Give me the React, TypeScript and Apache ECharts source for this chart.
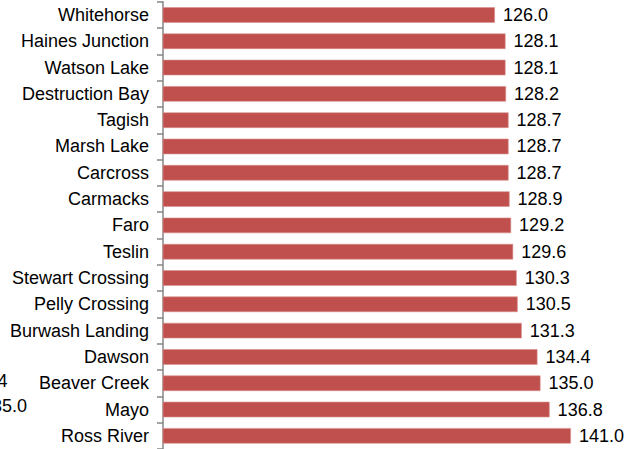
import React, { useEffect, useRef } from "react";
import * as echarts from "echarts";

const categories = [
  "Whitehorse",
  "Haines Junction",
  "Watson Lake",
  "Destruction Bay",
  "Tagish",
  "Marsh Lake",
  "Carcross",
  "Carmacks",
  "Faro",
  "Teslin",
  "Stewart Crossing",
  "Pelly Crossing",
  "Burwash Landing",
  "Dawson",
  "Beaver Creek",
  "Mayo",
  "Ross River",
];

const values = [
  126.0, 128.1, 128.1, 128.2, 128.7, 128.7, 128.7, 128.9, 129.2, 129.6, 130.3,
  130.5, 131.3, 134.4, 135.0, 136.8, 141.0,
];

const strayLabels = ["134.4", "135.0"];

const FONT = "Liberation Sans, Arial, sans-serif";

export default function App() {
  const ref = useRef<HTMLDivElement>(null);
  useEffect(() => {
    if (!ref.current) return;
    const chart = echarts.init(ref.current, undefined, { renderer: "svg" });
    chart.setOption({
      animation: false,
      grid: { left: 163, right: 18.5, top: 1.8, height: 449.5, containLabel: false },
      xAxis: {
        type: "value",
        min: 60.5,
        max: 150,
        show: false,
      },
      yAxis: {
        type: "category",
        inverse: true,
        data: categories,
        axisLine: { show: true, lineStyle: { color: "#868686", width: 1.5 } },
        axisTick: { show: true, length: 6, lineStyle: { color: "#868686", width: 1.5 } },
        axisLabel: { color: "#000", fontSize: 18, fontFamily: FONT, margin: 14 },
        splitLine: { show: false },
      },
      series: [
        {
          type: "bar",
          data: values,
          barWidth: "59%",
          itemStyle: { color: "#C0504D", borderColor: "#D9908E", borderWidth: 0.6 },
          label: {
            show: true,
            position: "right",
            distance: 8,
            color: "#000",
            fontSize: 18,
            fontFamily: FONT,
            formatter: (p: any) => Number(p.value).toFixed(1),
          },
        },
      ],
      graphic: [
        {
          type: "text",
          x: 7.5,
          y: 381,
          style: {
            text: strayLabels[0],
            fontSize: 18,
            fontFamily: FONT,
            fill: "#000",
            align: "right",
            verticalAlign: "middle",
          },
        },
        {
          type: "text",
          x: 27,
          y: 406,
          style: {
            text: strayLabels[1],
            fontSize: 18,
            fontFamily: FONT,
            fill: "#000",
            align: "right",
            verticalAlign: "middle",
          },
        },
      ],
    });
    return () => chart.dispose();
  }, []);
  return (
    <div
      ref={ref}
      style={{ position: "fixed", left: 0, top: 0, width: 635, height: 449, background: "#fff" }}
    />
  );
}
